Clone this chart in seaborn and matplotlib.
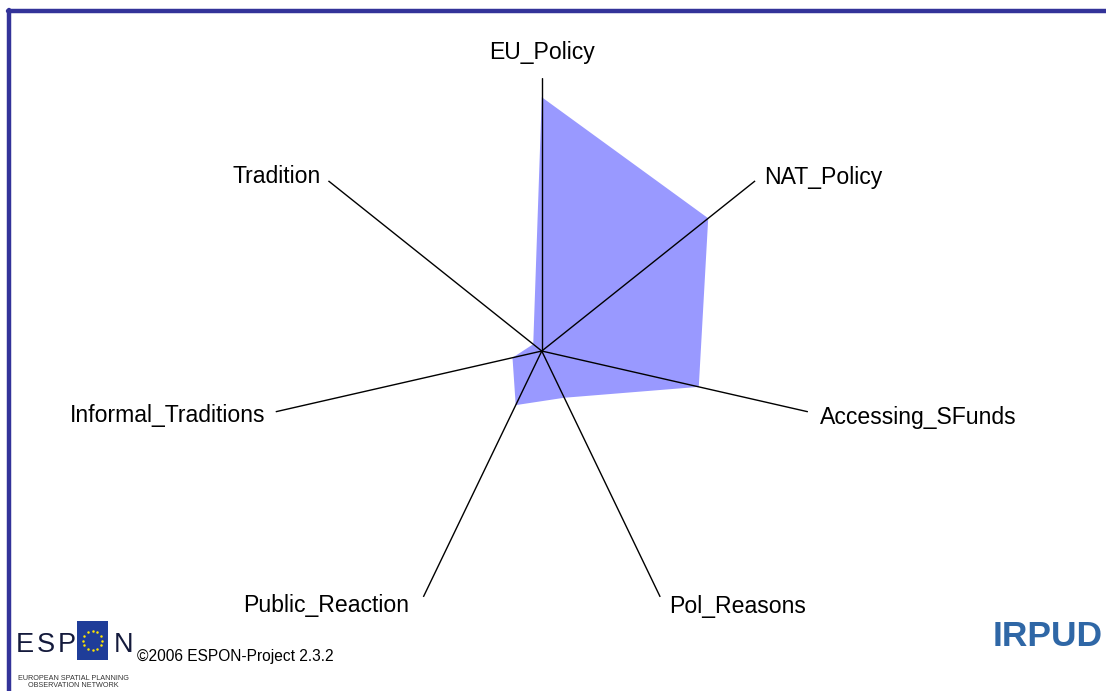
import numpy as np
import seaborn as sns
import matplotlib
matplotlib.use("Agg")
import matplotlib.pyplot as plt
from matplotlib.patches import Rectangle
from matplotlib.lines import Line2D

# ----------------------
# Data
# ----------------------
categories = ["EU_Policy", "NAT_Policy", "Accessing_SFunds", "Pol_Reasons",
              "Public_Reaction", "Informal_Traditions", "Tradition"]
values = [0.93, 0.78, 0.59, 0.19, 0.22, 0.11, 0.04]

# label placement (pixel offsets from spoke end) and alignment
label_offsets = [(0, 14), (9, 3), (12, -6), (9, -10), (-14, -9), (-10, -4), (-8, 4)]
label_ha = ["center", "left", "left", "left", "right", "right", "right"]
label_va = ["bottom", "center", "center", "center", "center", "center", "center"]

sns.set_theme(style="white")
plt.rcParams["font.family"] = ["Liberation Sans", "DejaVu Sans"]

fig = plt.figure(figsize=(11.06, 6.91), dpi=100)
ax = fig.add_axes([0.243, 0.097, 0.4937, 0.790], projection="polar")
ax.set_theta_offset(np.pi / 2)
ax.set_theta_direction(-1)

n = len(categories)
theta = np.arange(n) * 2 * np.pi / n

# filled data polygon
ax.fill(np.append(theta, theta[0]), values + values[:1],
        color="#9999ff", linewidth=0, zorder=1)

# spokes
for t in theta:
    ax.plot([t, t], [0, 1], color="black", lw=1.0, zorder=2)

for t, lab, off, ha, va in zip(theta, categories, label_offsets, label_ha, label_va):
    ax.annotate(lab, xy=(t, 1.0), xytext=(off[0] * 0.72, off[1] * 0.72),
                textcoords="offset points", ha=ha, va=va, fontsize=16.6,
                color="black", annotation_clip=False)

ax.set_ylim(0, 1)
ax.set_xticks([])
ax.set_yticks([])
ax.grid(False)
ax.spines["polar"].set_visible(False)
ax.set_facecolor("none")

# frame lines (top and left)
border = "#333399"
fig.add_artist(Line2D([7.5 / 1106, 1.0], [1 - 11 / 691, 1 - 11 / 691],
                      color=border, lw=3.2, transform=fig.transFigure))
fig.add_artist(Line2D([9 / 1106, 9 / 1106], [1 - 9.5 / 691, 0.0],
                      color=border, lw=3.2, transform=fig.transFigure))

# ESPON logo
W, H = 1106, 691
for ch, x in zip("ESP", [16, 37, 58]):
    fig.text(x / W, 1 - 645 / H, ch, fontsize=19.5, color="#141a3c",
             ha="left", va="center")
fig.add_artist(Rectangle((77 / W, 1 - 660 / H), 31 / W, 39 / H,
                         facecolor="#1f3d99", edgecolor="none",
                         transform=fig.transFigure))
star_t = np.arange(12) * 2 * np.pi / 12
sx = (92.5 + 9.5 * np.cos(star_t)) / W
sy = 1 - (640.5 - 9.5 * np.sin(star_t)) / H
fig.add_artist(Line2D(sx, sy, linestyle="none", marker="o", markersize=1.8,
                      markeredgewidth=0, color="#ffe600",
                      transform=fig.transFigure))
fig.text(114 / W, 1 - 645 / H, "N", fontsize=19.5, color="#141a3c",
         ha="left", va="center")
fig.text(73 / W, 1 - 678 / H, "EUROPEAN SPATIAL PLANNING", fontsize=5.2,
         color="#333333", ha="center", va="center")
fig.text(73 / W, 1 - 685.5 / H, "OBSERVATION NETWORK", fontsize=5.2,
         color="#333333", ha="center", va="center")
fig.text(137 / W, 1 - 656 / H, "\u00a92006 ESPON-Project 2.3.2", fontsize=11.2,
         color="black", ha="left", va="center")

# IRPUD logo
fig.text(993 / W, 1 - 637 / H, "IRPUD", fontsize=25.5, fontweight="bold",
         color="#2f67a6", ha="left", va="center")

fig.savefig("out.png", dpi=100)
